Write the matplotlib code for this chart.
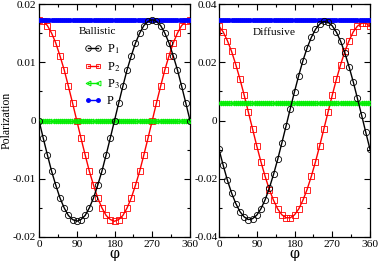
import matplotlib
matplotlib.use("Agg")
import matplotlib.pyplot as plt
from matplotlib.ticker import MultipleLocator
from matplotlib.lines import Line2D

plt.rcParams['font.family'] = ['Liberation Serif', 'DejaVu Serif']
plt.rcParams['mathtext.fontset'] = 'stix'

phi = list(range(0, 361, 10))
phi_dense = list(range(0, 361, 5))

# Ballistic
bal_P1 = [0, -.0030, -.0059, -.0087, -.0111, -.0133, -.0150, -.0163, -.0170, -.0173,
          -.0170, -.0163, -.0150, -.0133, -.0111, -.0087, -.0059, -.0030, 0,
          .0030, .0059, .0087, .0111, .0133, .0150, .0163, .0170, .0173,
          .0170, .0163, .0150, .0133, .0111, .0087, .0059, .0030, 0]
bal_P2 = [.0173, .0170, .0163, .0150, .0133, .0111, .0087, .0059, .0030, 0,
          -.0030, -.0059, -.0087, -.0111, -.0133, -.0150, -.0163, -.0170, -.0173,
          -.0170, -.0163, -.0150, -.0133, -.0111, -.0087, -.0059, -.0030, 0,
          .0030, .0059, .0087, .0111, .0133, .0150, .0163, .0170, .0173]
bal_P3 = [0.0] * len(phi_dense)
bal_P = [0.0173] * len(phi_dense)

# Diffusive
dif_P1 = [-.0099, -.0154, -.0205, -.0249, -.0285, -.0313, -.0331, -.0340, -.0337,
          -.0325, -.0303, -.0272, -.0232, -.0185, -.0133, -.0076, -.0018, .0041,
          .0099, .0154, .0205, .0249, .0285, .0313, .0331, .0340, .0337, .0325,
          .0303, .0272, .0232, .0185, .0133, .0076, .0018, -.0041, -.0099]
dif_P2 = [.0324, .0304, .0274, .0237, .0192, .0142, .0087, .0029, -.0029,
          -.0087, -.0142, -.0192, -.0237, -.0274, -.0304, -.0324, -.0334, -.0334,
          -.0324, -.0304, -.0274, -.0237, -.0192, -.0142, -.0087, -.0029, .0029,
          .0087, .0142, .0192, .0237, .0274, .0304, .0324, .0334, .0334, .0324]
dif_P3 = [0.006] * len(phi_dense)
dif_P = [0.0345] * len(phi_dense)

xticks = [0, 90, 180, 270, 360]
xticklabels = ['0', '90', '180', '270', '360']
bal_yticks = [-0.02, -0.01, 0, 0.01, 0.02]
bal_yticklabels = ['-0.02', '-0.01', '0', '0.01', '0.02']
dif_yticks = [-0.04, -0.02, 0, 0.02, 0.04]
dif_yticklabels = ['-0.04', '-0.02', '0', '0.02', '0.04']

W, H = 379, 263
fig = plt.figure(figsize=(W / 100, H / 100), dpi=100)
ax1 = fig.add_axes([39 / W, 1 - 237 / H, (190 - 39) / W, (237 - 4) / H])
ax2 = fig.add_axes([219 / W, 1 - 237 / H, (370 - 219) / W, (237 - 4) / H])

fs = 8.2

def draw(ax, P1, P2, P3, P):
    ax.plot(phi_dense, P, color='blue', marker='o', ms=2.5, mfc='blue', mec='blue', lw=1.0, zorder=4)
    ax.plot(phi_dense, P3, color='#00ee00', marker='<', ms=3.5, mfc='none', mec='#00ee00', mew=0.7, lw=1.0, zorder=3)
    ax.plot(phi, P2, color='red', marker='s', ms=4, mfc='none', mec='red', mew=0.6, lw=1.0, zorder=2)
    ax.plot(phi, P1, color='black', marker='o', ms=4.5, mfc='none', mec='black', mew=0.6, lw=1.0, zorder=5)
    ax.set_xlim(0, 360)
    ax.xaxis.set_minor_locator(MultipleLocator(45))
    ax.set_xticks(xticks)
    ax.set_xticklabels(xticklabels)
    ax.tick_params(which='both', direction='in', top=True, right=True, labelsize=fs, pad=2)
    ax.tick_params(which='major', length=4, width=0.8)
    ax.tick_params(which='minor', length=2, width=0.8)
    for s in ax.spines.values():
        s.set_linewidth(0.9)
    ax.set_xlabel('φ', fontsize=fs + 2, labelpad=-1, family=['DejaVu Serif'])

draw(ax1, bal_P1, bal_P2, bal_P3, bal_P)
ax1.set_ylim(-0.02, 0.02)
ax1.yaxis.set_minor_locator(MultipleLocator(0.005))
ax1.set_yticks(bal_yticks)
ax1.set_yticklabels(bal_yticklabels)
ax1.set_ylabel('Polarization', fontsize=8.5, labelpad=0)
ax1.text(95, 0.0152, 'Ballistic', fontsize=fs, ha='left', va='center')

draw(ax2, dif_P1, dif_P2, dif_P3, dif_P)
ax2.set_ylim(-0.04, 0.04)
ax2.yaxis.set_minor_locator(MultipleLocator(0.01))
ax2.set_yticks(dif_yticks)
ax2.set_yticklabels(dif_yticklabels)
ax2.tick_params(axis='y', pad=1)
ax2.text(81, 0.0303, 'Diffusive', fontsize=fs, ha='left', va='center')

handles = [
    Line2D([], [], color='black', marker='o', ms=4, mfc='none', mec='black', mew=0.6, lw=1.0),
    Line2D([], [], color='red', marker='s', ms=3.5, mfc='none', mec='red', mew=0.6, lw=1.0),
    Line2D([], [], color='#00ee00', marker='<', ms=3.5, mfc='none', mec='#00ee00', mew=0.7, lw=1.0),
    Line2D([], [], color='blue', marker='o', ms=2.5, mfc='blue', mec='blue', lw=1.0),
]
labels = ['P$_1$', 'P$_2$', 'P$_3$', 'P']
ax1.legend(handles, labels, loc='upper left', bbox_to_anchor=(0.30, 0.835), frameon=False,
           numpoints=2, fontsize=9, handlelength=1.4, handletextpad=0.4,
           labelspacing=0.3, borderaxespad=0, borderpad=0)

fig.savefig('out.png', dpi=100)
